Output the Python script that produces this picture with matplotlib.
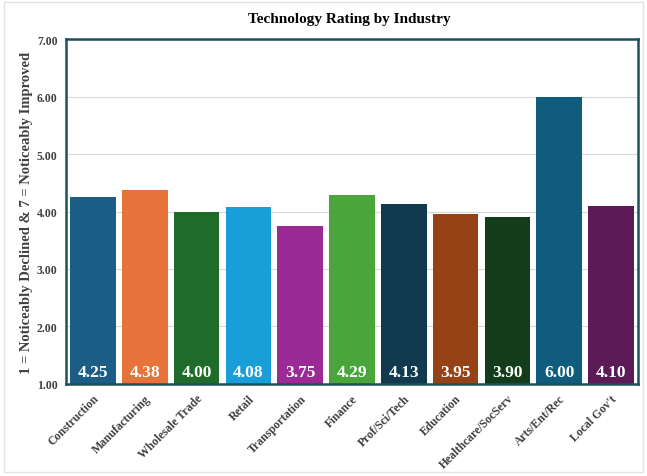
import matplotlib.pyplot as plt
from matplotlib.patches import Rectangle

# ratings per industry
industries = ['Construction', 'Manufacturing', 'Wholesale Trade', 'Retail',
              'Transportation', 'Finance', 'Prof/Sci/Tech', 'Education',
              'Healthcare/SocServ', 'Arts/Ent/Rec', "Local Gov't"]
ratings = [4.25, 4.38, 4.00, 4.08, 3.75, 4.29, 4.13, 3.95, 3.90, 6.00, 4.10]
colors = ['#1c5d85', '#e8733a', '#1e6b2a', '#1a9ed8', '#9c2a96', '#4aa63a',
          '#123a4e', '#974216', '#133d1a', '#0f5c7c', '#5c1a56']

plt.rcParams['font.family'] = ['Liberation Serif', 'DejaVu Serif']

fig = plt.figure(figsize=(6.47, 4.77), dpi=100)
ax = fig.add_axes([0.102, 0.193, 0.884, 0.723])

# light frame around the whole figure
fig.patches.append(Rectangle((0.006, 0.008), 0.988, 0.985, transform=fig.transFigure,
                             fill=False, edgecolor='#e3e3e3', linewidth=1))

x = range(len(industries))
ax.bar(x, ratings, width=0.88, color=colors, bottom=0)
for i, v in enumerate(ratings):
    ax.text(i, 1.07, '%.2f' % v, ha='center', va='bottom', color='white',
            fontsize=12.5, fontweight='bold')

ax.set_ylim(1, 7)
ax.set_xlim(-0.52, len(industries) - 0.48)
ax.set_yticks([1, 2, 3, 4, 5, 6, 7])
ax.set_yticklabels(['%.2f' % t for t in range(1, 8)], fontsize=8.5, fontweight='bold',
                   color='#404040')
ax.set_xticks(list(x))
ax.set_xticklabels(industries, rotation=45, ha='right', rotation_mode='anchor',
                   fontsize=8.5, fontweight='bold', color='#404040')
ax.tick_params(length=0, pad=6)
ax.grid(axis='y', color='#d9d9d9', linewidth=0.8)
ax.set_axisbelow(True)
for s in ax.spines.values():
    s.set_color('#1f4e5f')
    s.set_linewidth(1.8)

ax.set_ylabel('1 = Noticeably Declined & 7 = Noticeably Improved', fontsize=10.5,
              fontweight='bold', color='#404040', labelpad=3)
fig.text(0.54, 0.96, 'Technology Rating by Industry', ha='center', va='center',
         fontsize=11, fontweight='bold')

plt.savefig('out.png', dpi=100)
